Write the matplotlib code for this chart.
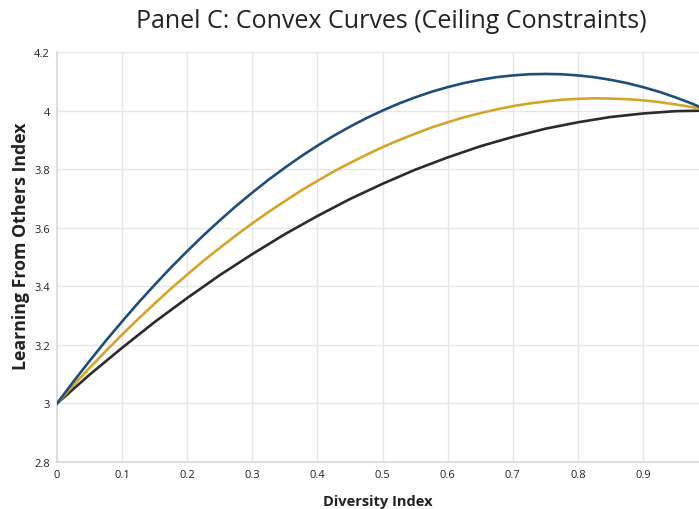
import matplotlib
import matplotlib.pyplot as plt
from matplotlib.ticker import FuncFormatter

matplotlib.use('Agg')  # no display

diversity = [0.0, 0.025, 0.05, 0.075, 0.1, 0.125, 0.15, 0.175, 0.2, 0.225,
             0.25, 0.275, 0.3, 0.325, 0.35, 0.375, 0.4, 0.425, 0.45, 0.475,
             0.5, 0.525, 0.55, 0.575, 0.6, 0.625, 0.65, 0.675, 0.7, 0.725,
             0.75, 0.775, 0.8, 0.825, 0.85, 0.875, 0.9, 0.925, 0.95, 0.975, 1.0]
blue_curve = [3.0, 3.074, 3.145, 3.214, 3.28, 3.344, 3.405, 3.464, 3.52, 3.574,
              3.625, 3.674, 3.72, 3.764, 3.805, 3.844, 3.88, 3.914, 3.945, 3.974,
              4.0, 4.024, 4.045, 4.064, 4.08, 4.094, 4.105, 4.114, 4.12, 4.124,
              4.125, 4.124, 4.12, 4.114, 4.105, 4.094, 4.08, 4.064, 4.045, 4.024, 4.0]
gold_curve = [3.0, 3.062, 3.121, 3.179, 3.235, 3.289, 3.341, 3.392, 3.44, 3.487,
              3.531, 3.574, 3.615, 3.654, 3.691, 3.727, 3.76, 3.792, 3.821, 3.849,
              3.875, 3.899, 3.921, 3.942, 3.96, 3.977, 3.991, 4.004, 4.015, 4.024,
              4.031, 4.037, 4.04, 4.042, 4.041, 4.039, 4.035, 4.029, 4.021, 4.012, 4.0]
black_curve = [3.0, 3.049, 3.098, 3.144, 3.19, 3.234, 3.278, 3.319, 3.36, 3.399,
               3.438, 3.474, 3.51, 3.544, 3.578, 3.609, 3.64, 3.669, 3.698, 3.724,
               3.75, 3.774, 3.798, 3.819, 3.84, 3.859, 3.878, 3.894, 3.91, 3.924,
               3.938, 3.949, 3.96, 3.969, 3.978, 3.984, 3.99, 3.994, 3.998, 3.999, 4.0]

x_ticks = [0, 0.1, 0.2, 0.3, 0.4, 0.5, 0.6, 0.7, 0.8, 0.9]
y_ticks = [2.8, 3.0, 3.2, 3.4, 3.6, 3.8, 4.0, 4.2]

plt.rcParams['font.family'] = ['Open Sans', 'DejaVu Sans']

fig = plt.figure(figsize=(6.99, 5.10), dpi=100)
ax = fig.add_axes([57 / 699, 47 / 510, 642 / 699, 410 / 510])

# Draw the curves
ax.plot(diversity, black_curve, color='#2b2b2b', lw=1.9, zorder=3, solid_joinstyle='round')
ax.plot(diversity, gold_curve, color='#d4a52a', lw=1.9, zorder=4, solid_joinstyle='round')
ax.plot(diversity, blue_curve, color='#1f4e79', lw=1.9, zorder=5, solid_joinstyle='round')

ax.set_xlim(0, 0.986)
ax.set_ylim(2.8, 4.2)
ax.set_xticks(x_ticks)
ax.set_yticks(y_ticks)
ax.xaxis.set_major_formatter(FuncFormatter(lambda v, p: f'{v:g}'))
ax.yaxis.set_major_formatter(FuncFormatter(lambda v, p: f'{v:g}'))
ax.tick_params(length=0, labelsize=8, colors='#222222', pad=5)

ax.grid(True, color='#e6e6e6', lw=1)
ax.set_axisbelow(True)
for side in ['top', 'right']:
    ax.spines[side].set_visible(False)
for side in ['left', 'bottom']:
    ax.spines[side].set_color('#d9d9d9')
    ax.spines[side].set_linewidth(1.2)

ax.set_xlabel('Diversity Index', fontsize=10.5, fontweight='bold', color='#222222', labelpad=10)
ax.set_ylabel('Learning From Others Index', fontsize=12.8, fontweight='bold', color='#222222')
ax.yaxis.set_label_coords(-(57 - 30) / 642, (463 - 246) / 410)

fig.text(391 / 699, 1 - 22 / 510, 'Panel C: Convex Curves (Ceiling Constraints)',
         ha='center', va='center', fontsize=18, color='#222222')

fig.savefig('out.png', dpi=100)
